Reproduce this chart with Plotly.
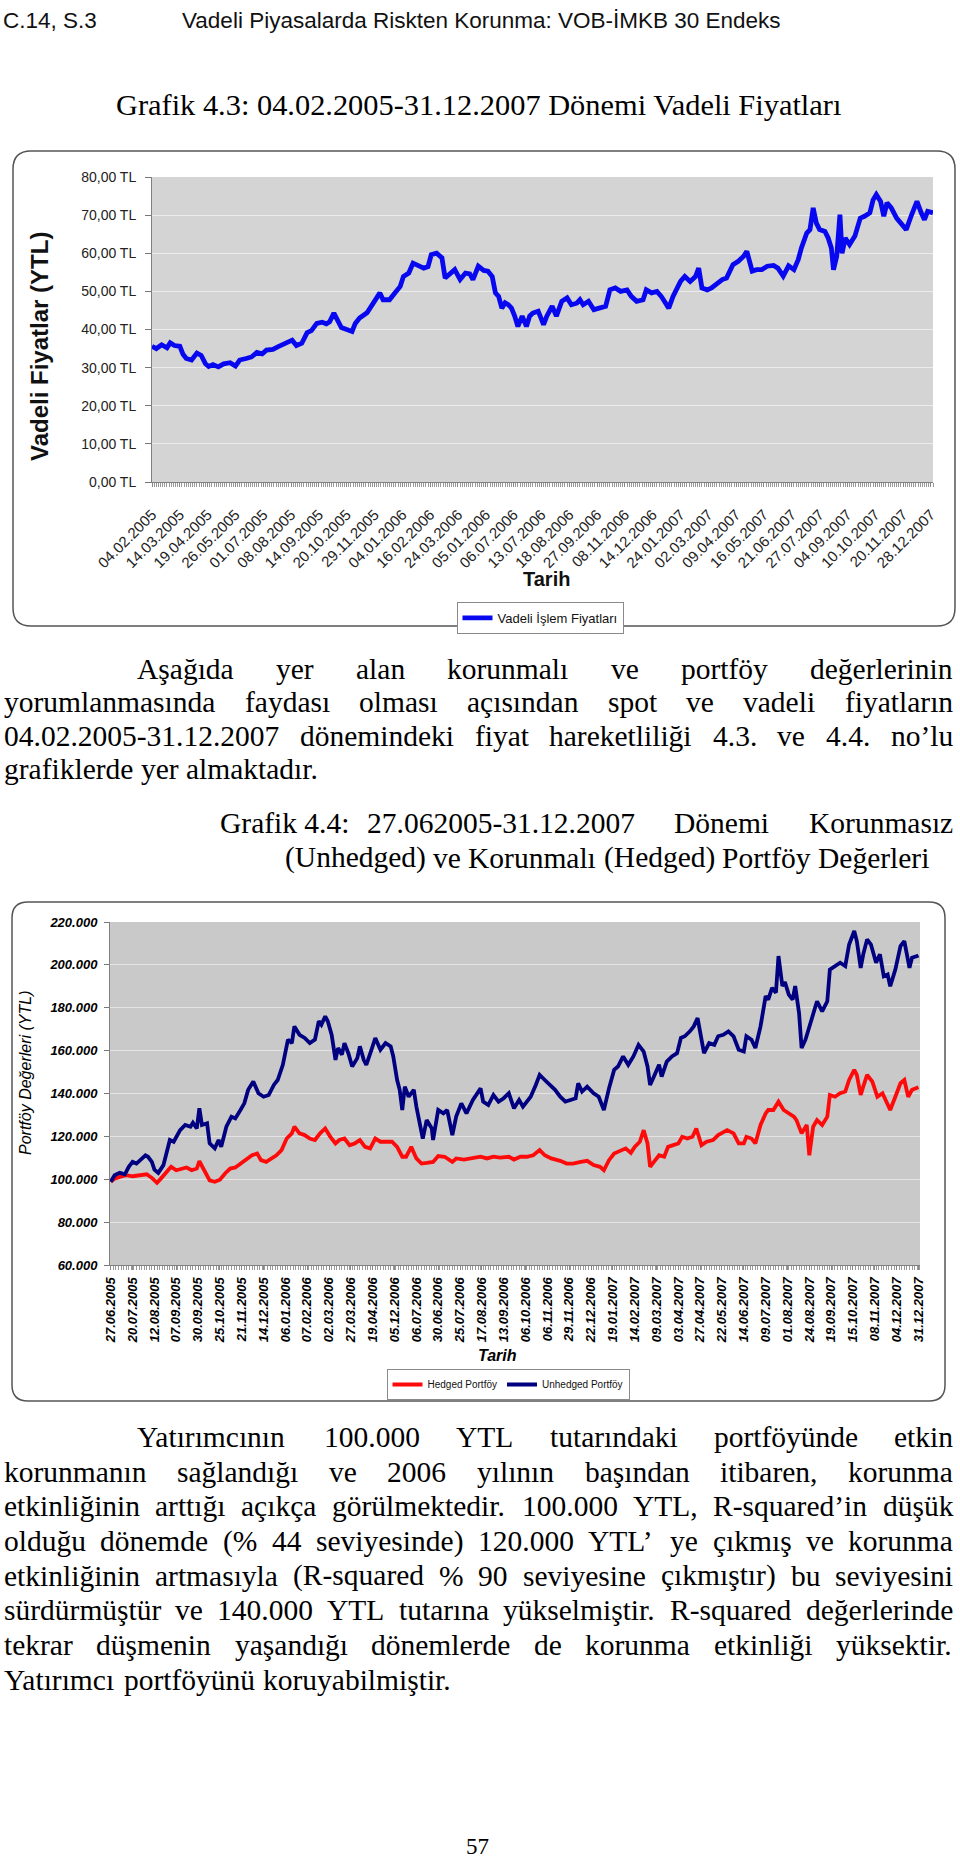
import plotly.graph_objects as go

W, H = 960, 1864

# ------------------------------------------------------------------ data
# Grafik 4.3 : vadeli fiyatlar (trading-day index, TL)
vadeli_gun = [0, 4, 9, 14, 17, 21, 26, 29, 32, 37, 42, 46, 50, 53, 57, 62, 67, 73, 78, 82,
              88, 93, 98, 103, 107, 113, 118, 123, 127, 131, 135, 140, 145, 149, 154, 159, 163, 166, 170, 173,
              177, 182, 187, 190, 194, 201, 205, 210, 213, 216, 222, 227, 232, 235, 240, 244, 249, 254, 258, 261,
              266, 271, 274, 279, 283, 288, 293, 297, 300, 305,
              310, 314, 318, 321, 324, 327, 330, 333, 336, 339, 342, 346, 350, 353, 356, 361, 366, 369, 374, 378,
              383, 388, 392, 397, 400, 403, 408, 413, 419, 424, 428, 433, 438, 444, 448, 453, 459, 462, 467, 472,
              476, 483, 487, 494, 498, 503, 508, 511, 514, 519, 523, 528, 533, 537, 543, 548, 553, 556, 561, 565,
              570, 575, 581, 585, 590, 595, 600, 604, 607, 612, 615, 618, 621, 624, 629, 632, 635, 637, 640, 643,
              645, 648, 652, 657, 662, 666, 671, 674, 677, 681, 684, 687, 691, 696, 701, 705, 710, 715, 719, 722,
              725, 730]
vadeli_fiyat = [35.6, 35.0, 36.0, 35.2, 36.5, 35.8, 35.6, 33.5, 32.4, 32.0, 33.8, 33.2, 31.0, 30.3, 30.8, 30.2, 31.0, 31.3, 30.4, 32.0,
                32.4, 32.8, 34.0, 33.6, 34.6, 34.8, 35.5, 36.2, 36.6, 37.2, 35.8, 36.4, 39.2, 39.7, 41.6, 41.9, 41.5, 42.0, 44.3, 42.6,
                40.5, 40.0, 39.5, 41.6, 43.0, 44.4, 46.0, 48.2, 49.6, 47.8, 47.8, 49.6, 51.3, 53.9, 54.8, 57.4, 56.6, 56.1, 56.5, 59.6,
                60.0, 58.8, 53.5, 54.8, 55.7, 53.1, 54.8, 54.6, 53.1, 56.6,
                55.5, 55.3, 53.9, 49.6, 48.7, 45.6, 47.0, 46.5, 45.6, 43.5, 40.8, 43.5, 40.8, 43.5, 44.3, 44.8, 41.3, 43.5, 46.1, 43.5,
                47.4, 48.3, 46.5, 46.9, 47.8, 46.5, 47.4, 45.2, 45.6, 46.1, 50.4, 50.9, 50.0, 50.4, 48.7, 47.4, 47.8, 50.4, 49.6, 50.0,
                48.7, 45.6, 48.7, 52.6, 53.9, 52.6, 53.9, 56.1, 50.9, 50.4, 50.9, 52.2, 53.1, 53.5, 57.0, 57.9, 59.2, 60.5, 55.3, 55.7,
                55.7, 56.6, 56.8, 56.1, 54.0, 56.7, 55.7, 58.3, 61.4, 65.3, 66.2, 71.9, 67.9, 66.2, 65.7, 64.0, 61.4, 55.7, 59.2, 70.1,
                60.0, 64.0, 62.3, 64.5, 69.2, 69.7, 70.6, 74.0, 75.4, 73.6, 69.7, 73.2, 71.9, 69.2, 67.5, 66.2, 70.1, 73.6, 70.6, 68.8,
                71.0, 70.6]
grafik43_etiket = ["04.02.2005", "14.03.2005", "19.04.2005", "26.05.2005", "01.07.2005", "08.08.2005",
                   "14.09.2005", "20.10.2005", "29.11.2005", "04.01.2006", "16.02.2006", "24.03.2006",
                   "05.01.2006", "06.07.2006", "13.07.2006", "18.08.2006", "27.09.2006", "08.11.2006",
                   "14.12.2006", "24.01.2007", "02.03.2007", "09.04.2007", "16.05.2007", "21.06.2007",
                   "27.07.2007", "04.09.2007", "10.10.2007", "20.11.2007", "28.12.2007"]
grafik43_adim = 26

# Grafik 4.4 : portfoy degerleri (trading-day index, thousand YTL)
unhedged_gun = [0, 3, 7, 11, 14, 17, 20, 23, 27, 29, 32, 34, 37, 41, 43, 46, 49, 51, 54, 58,
                62, 64, 67, 69, 71, 75, 77, 81, 84, 86, 90, 94, 97, 101, 104, 107, 111, 115, 119, 123,
                127, 130, 134, 138, 141, 143, 147, 151, 155, 159, 162, 164, 167, 169, 172, 175, 177, 180, 182, 185,
                188, 192, 194, 197, 199, 203, 206, 210, 214, 218, 220, 223, 225, 227, 229, 232, 236, 238, 241, 243,
                246, 250, 251, 255, 259, 262, 266, 269, 273, 277, 282, 288,
                290, 294, 298, 302, 306, 310, 314, 318, 321, 327, 331, 334, 338, 342, 346, 350, 354, 358, 362, 364,
                367, 371, 376, 380, 384, 388, 392, 395, 399, 403, 407, 411, 415, 418, 420, 423, 427, 429, 433, 437,
                441, 444, 447, 451, 454, 457, 459, 462, 466, 470, 473, 477, 481, 485, 489, 493, 495, 499, 502, 506,
                510, 512, 515, 518, 520, 523, 525, 528, 531, 533, 536, 538, 541, 544, 547, 550, 554, 558, 560, 564,
                568, 572, 575, 579, 581, 584, 586, 589, 592, 596, 599, 602, 605, 607, 611, 615, 618, 622, 624, 628,
                629]
unhedged_bin = [98.8, 101.9, 103.0, 102.3, 105.8, 108.1, 107.3, 109.2, 111.2, 110.5, 108.1, 104.5, 103.0, 106.6, 111.2, 118.3, 117.5, 119.8, 122.9, 125.3,
                124.5, 126.4, 123.7, 133.1, 125.3, 126.1, 116.7, 114.4, 118.3, 115.1, 124.5, 129.2, 128.4, 132.3, 135.4, 141.7, 145.6, 140.1, 138.5, 139.3,
                144.0, 146.3, 153.4, 165.1, 163.5, 171.3, 167.4, 165.9, 163.5, 165.1, 173.7, 172.1, 176.0, 173.7, 167.4, 155.7, 161.2, 158.1, 163.5, 158.8,
                152.6, 156.5, 162.0, 155.7, 153.4, 160.4, 165.9, 160.4, 163.5, 162.0, 157.3, 146.3, 141.7, 132.3, 143.2, 138.5, 141.7, 133.9, 124.5, 119.0,
                127.6, 123.7, 118.3, 132.3, 130.7, 132.3, 120.6, 129.2, 135.4, 130.7, 137.0, 142.4,
                136.2, 134.6, 139.3, 136.2, 137.8, 140.1, 133.1, 137.0, 133.9, 138.5, 144.0, 148.7, 146.3, 144.0, 141.7, 138.5, 136.2, 137.0, 137.8, 144.8,
                140.9, 143.2, 140.1, 138.5, 132.3, 142.4, 151.0, 152.6, 157.3, 153.4, 157.3, 162.7, 159.6, 152.6, 144.0, 147.9, 153.4, 147.9, 154.9, 157.3,
                158.8, 165.9, 166.7, 169.0, 171.3, 175.2, 168.2, 158.8, 163.5, 162.7, 166.7, 167.4, 169.0, 166.7, 160.4, 159.6, 166.7, 165.1, 161.2, 171.3,
                185.4, 183.8, 189.3, 187.0, 204.1, 190.1, 192.0, 186.1, 183.8, 190.1, 177.6, 161.2, 165.1, 171.3, 176.0, 183.0, 178.3, 183.0, 197.8, 199.4,
                201.0, 199.4, 209.5, 215.8, 211.1, 198.6, 204.9, 211.9, 209.5, 201.0, 204.9, 194.7, 195.5, 190.0, 197.8, 208.8, 211.1, 198.6, 203.3, 204.1,
                204.4]
hedged_gun = [0, 3, 7, 12, 17, 23, 28, 32, 36, 39, 43, 47, 51, 55, 59, 63, 67, 69, 73, 77,
              81, 85, 89, 93, 97, 101, 106, 110, 114, 117, 121, 125, 129, 133, 137, 141, 143, 147, 151, 155,
              159, 163, 167, 171, 175, 178, 182, 186, 190, 194, 198, 202, 206, 210, 215, 219, 223, 227, 230, 234,
              238, 242, 246, 251, 255, 260, 266, 269, 275, 280, 288,
              293, 298, 303, 310, 314, 319, 324, 329, 334, 338, 343, 350, 355, 360, 366, 371, 376, 381, 384, 388,
              392, 397, 401, 405, 408, 412, 415, 418, 420, 423, 427, 431, 434, 438, 442, 445, 449, 453, 456, 460,
              464, 469, 473, 480, 485, 489, 493, 495, 499, 502, 506, 510, 512, 516, 520, 524, 528, 532, 534, 538,
              542, 544, 547, 550, 554, 558, 560, 564, 568, 572, 575, 579, 581, 584, 586, 589, 593, 597, 601, 605,
              607, 611, 615, 618, 621, 624, 628, 629]
hedged_bin = [98.8, 100.3, 101.1, 101.9, 101.4, 101.9, 102.3, 100.6, 98.3, 100.3, 103.4, 105.8, 104.2, 105.0, 105.5, 104.2, 105.0, 108.4, 104.2, 99.5,
              98.8, 99.8, 102.7, 105.0, 105.5, 107.3, 109.7, 111.2, 112.0, 108.9, 108.1, 109.7, 111.2, 113.6, 119.0, 121.4, 124.5, 121.4, 120.6, 119.0,
              118.3, 121.4, 123.7, 119.8, 116.7, 118.3, 119.0, 115.9, 116.7, 118.3, 115.1, 114.4, 119.0, 117.5, 117.5, 117.5, 115.1, 110.5, 110.5, 115.1,
              109.7, 107.3, 107.6, 108.1, 110.8, 110.5, 108.1, 109.7, 109.2, 109.7, 110.5,
              109.7, 110.5, 110.1, 110.5, 109.2, 110.5, 110.5, 111.2, 113.6, 111.2, 109.7, 108.6, 107.3, 107.3, 108.1, 108.6, 106.6, 105.8, 104.2, 108.9,
              112.0, 113.3, 114.4, 112.3, 115.1, 117.5, 122.9, 116.7, 105.8, 108.1, 111.2, 110.5, 115.1, 115.9, 116.7, 119.8, 119.0, 119.8, 123.7, 115.9,
              117.5, 118.3, 120.6, 122.9, 121.4, 116.7, 116.7, 119.8, 119.0, 116.7, 125.3, 130.7, 132.3, 132.3, 136.2, 132.3, 130.7, 129.2, 127.6, 121.4,
              125.3, 111.2, 124.5, 127.6, 125.3, 129.2, 139.3, 138.5, 140.1, 140.9, 146.3, 151.0, 148.7, 139.3, 143.2, 148.7, 145.6, 138.5, 140.1, 135.4,
              132.3, 138.5, 144.8, 146.3, 138.5, 141.7, 142.4, 142.9]
grafik44_etiket = ["27.06.2005", "20.07.2005", "12.08.2005", "07.09.2005", "30.09.2005", "25.10.2005",
                   "21.11.2005", "14.12.2005", "06.01.2006", "07.02.2006", "02.03.2006", "27.03.2006",
                   "19.04.2006", "05.12.2006", "06.07.2006", "30.06.2006", "25.07.2006", "17.08.2006",
                   "13.09.2006", "06.10.2006", "06.11.2006", "29.11.2006", "22.12.2006", "19.01.2007",
                   "14.02.2007", "09.03.2007", "03.04.2007", "27.04.2007", "22.05.2007", "14.06.2007",
                   "09.07.2007", "01.08.2007", "24.08.2007", "19.09.2007", "15.10.2007", "08.11.2007",
                   "04.12.2007", "31.12.2007"]
grafik44_adim = 17

# page text
baslik_ust = ["C.14, S.3", "Vadeli Piyasalarda Riskten Korunma: VOB-İMKB 30 Endeks"]
grafik43_baslik = "Grafik 4.3: 04.02.2005-31.12.2007 Dönemi Vadeli Fiyatları"
paragraf1 = ["Aşağıda yer alan korunmalı ve portföy değerlerinin",
             "yorumlanmasında faydası olması açısından spot ve vadeli fiyatların",
             "04.02.2005-31.12.2007 dönemindeki fiyat hareketliliği 4.3. ve 4.4. no’lu",
             "grafiklerde yer almaktadır."]
grafik44_baslik = ["Grafik 4.4:", "27.062005-31.12.2007 Dönemi Korunmasız",
                   "(Unhedged) ve Korunmalı (Hedged) Portföy Değerleri"]
paragraf2 = ["Yatırımcının 100.000 YTL tutarındaki portföyünde etkin",
             "korunmanın sağlandığı ve 2006 yılının başından itibaren, korunma",
             "etkinliğinin arttığı açıkça görülmektedir. 100.000 YTL, R-squared’in düşük",
             "olduğu dönemde (% 44 seviyesinde) 120.000 YTL’ ye çıkmış ve korunma",
             "etkinliğinin artmasıyla (R-squared % 90 seviyesine çıkmıştır) bu seviyesini",
             "sürdürmüştür ve 140.000 YTL tutarına yükselmiştir. R-squared değerlerinde",
             "tekrar düşmenin yaşandığı dönemlerde de korunma etkinliği yüksektir.",
             "Yatırımcı portföyünü koruyabilmiştir."]
sayfa_no = "57"

# ------------------------------------------------------------------ helpers
SANS = "Liberation Sans, Arial, sans-serif"
SERIF = "Liberation Serif, Times New Roman, serif"


def px(x):
    return x / W


def py(y):
    return 1 - y / H


TIMES = {' ': 250, '%': 833, '(': 333, ')': 333, ',': 250, '-': 333, '.': 250, ':': 278, '’': 333,
         'A': 722, 'B': 667, 'C': 667, 'D': 722, 'E': 611, 'F': 556, 'G': 722, 'H': 722, 'I': 333,
         'J': 389, 'K': 722, 'L': 611, 'M': 889, 'N': 722, 'O': 722, 'P': 556, 'Q': 722, 'R': 667,
         'S': 556, 'T': 611, 'U': 722, 'V': 722, 'W': 944, 'X': 722, 'Y': 722, 'Z': 611,
         'a': 444, 'b': 500, 'c': 444, 'd': 500, 'e': 444, 'f': 333, 'g': 500, 'h': 500, 'i': 278,
         'j': 278, 'k': 500, 'l': 278, 'm': 778, 'n': 500, 'o': 500, 'p': 500, 'q': 500, 'r': 333,
         's': 389, 't': 278, 'u': 500, 'v': 500, 'w': 722, 'x': 500, 'y': 500, 'z': 444,
         'ş': 389, 'ğ': 500, 'ı': 278, 'ç': 444, 'ö': 500, 'ü': 500, 'İ': 333, 'Ş': 556, 'Ğ': 722,
         'Ç': 667, 'Ö': 722, 'Ü': 722}


def tw(s, f):
    return sum(TIMES.get(c, 500) for c in s) * f / 1000.0


annotations = []


def text(t, x, base, f, family=SERIF, anchor="left", color="black", **fk):
    annotations.append(dict(text=t, x=px(x), y=py(base - 0.34 * f), xref="paper", yref="paper",
                            xanchor=anchor, yanchor="middle", showarrow=False,
                            font=dict(family=family, size=f, color=color, **fk)))


def line(words, left, right, base, f, justify=True):
    ws = [tw(w, f) for w in words]
    if justify and len(words) > 1:
        gap = max((right - left - sum(ws)) / (len(words) - 1), 0.18 * f)
    else:
        gap = 0.25 * f
    x = left
    for w, wd in zip(words, ws):
        text(w, x - 1, base, f)
        x += wd + gap


def rounded(x0, y0, x1, y1, r):
    p = [("M", [(x0 + r, y0)]), ("L", [(x1 - r, y0)]), ("Q", [(x1, y0), (x1, y0 + r)]),
         ("L", [(x1, y1 - r)]), ("Q", [(x1, y1), (x1 - r, y1)]), ("L", [(x0 + r, y1)]),
         ("Q", [(x0, y1), (x0, y1 - r)]), ("L", [(x0, y0 + r)]), ("Q", [(x0, y0), (x0 + r, y0)])]
    s = ""
    for cmd, pts in p:
        s += cmd + " " + " ".join("%.5f,%.5f" % (px(a), py(b)) for a, b in pts) + " "
    return s + "Z"


# ------------------------------------------------------------------ figure
fig = go.Figure()

fig.add_trace(go.Scatter(x=vadeli_gun, y=vadeli_fiyat, mode="lines", name="Vadeli İşlem Fiyatları",
                         line=dict(color="#0808f0", width=4.8), xaxis="x", yaxis="y", legend="legend"))
fig.add_trace(go.Scatter(x=hedged_gun, y=[v * 1000 for v in hedged_bin], mode="lines", name="Hedged Portföy",
                         line=dict(color="#ff0a0a", width=3.8), xaxis="x2", yaxis="y2", legend="legend2"))
fig.add_trace(go.Scatter(x=unhedged_gun, y=[v * 1000 for v in unhedged_bin], mode="lines", name="Unhedged Portföy",
                         line=dict(color="#000080", width=3.8), xaxis="x2", yaxis="y2", legend="legend2"))

tv1 = [i * grafik43_adim for i in range(len(grafik43_etiket))]
tv2 = [i * grafik44_adim for i in range(len(grafik44_etiket))]

# chart 1 plot area: x 152-933, y 177-482 ; chart 2: x 110-920, y 922-1265
fig.update_layout(
    width=W, height=H, margin=dict(l=0, r=0, t=0, b=0),
    paper_bgcolor="white", plot_bgcolor="rgba(0,0,0,0)",
    separators=",.", showlegend=True, hovermode=False,
    font=dict(family=SANS, color="#222"),
    xaxis=dict(domain=[px(152), px(933)], anchor="y", range=[0, 730],
               tickmode="array", tickvals=tv1, ticktext=grafik43_etiket, tickangle=-45,
               tickfont=dict(family=SANS, size=15, color="#222"),
               ticks="outside", ticklen=4, tickcolor="#888", ticklabelstandoff=13,
               minor=dict(tickmode="linear", tick0=0, dtick=2, ticks="outside", ticklen=4, tickcolor="#999"),
               showline=True, linecolor="#808080", linewidth=1, showgrid=False, zeroline=False,
               automargin=False, fixedrange=True),
    yaxis=dict(domain=[py(482), py(177)], anchor="x", range=[0, 80], tickmode="linear", tick0=0, dtick=10,
               tickformat=".2f", ticksuffix=" TL", tickfont=dict(family=SANS, size=14, color="#222"),
               ticks="outside", ticklen=6, tickcolor="#777", ticklabelstandoff=6,
               showgrid=True, gridcolor="#ececec", gridwidth=1,
               showline=True, linecolor="#808080", linewidth=1, zeroline=False,
               automargin=False, fixedrange=True),
    xaxis2=dict(domain=[px(110), px(920)], anchor="y2", range=[-0.6, 630.2],
                tickmode="array", tickvals=tv2, ticktext=grafik44_etiket, tickangle=-90,
                tickfont=dict(family=SANS, size=13, color="black", weight="bold", style="italic"),
                ticks="outside", ticklen=4, tickcolor="#888", ticklabelstandoff=2,
                minor=dict(tickmode="linear", tick0=0, dtick=2, ticks="outside", ticklen=4, tickcolor="#999"),
                showline=True, linecolor="#808080", linewidth=1, showgrid=False, zeroline=False,
                automargin=False, fixedrange=True),
    yaxis2=dict(domain=[py(1265), py(922)], anchor="x2", range=[60000, 220000], tickmode="linear",
                tick0=60000, dtick=20000, tickformat=",d",
                tickfont=dict(family=SANS, size=13, color="black", weight="bold", style="italic"),
                ticks="outside", ticklen=5, tickcolor="#777", ticklabelstandoff=4,
                showgrid=True, gridcolor="#e4e4e4", gridwidth=1,
                showline=True, linecolor="#808080", linewidth=1, zeroline=False,
                automargin=False, fixedrange=True),
    legend=dict(x=px(540), y=py(602), xanchor="center", yanchor="top", orientation="h",
                bgcolor="white", bordercolor="#8a8a8a", borderwidth=1,
                font=dict(family=SANS, size=13, color="#111"), itemwidth=30, tracegroupgap=0),
    legend2=dict(x=px(508), y=py(1369), xanchor="center", yanchor="top", orientation="h",
                 bgcolor="white", bordercolor="#8a8a8a", borderwidth=1,
                 font=dict(family=SANS, size=10, color="#111"), itemwidth=30, tracegroupgap=0),
)

shapes = [
    dict(type="rect", xref="x domain", yref="y domain", x0=0, x1=1, y0=0, y1=1,
         fillcolor="#d4d4d4", line=dict(width=0), layer="below"),
    dict(type="rect", xref="x2 domain", yref="y2 domain", x0=0, x1=1, y0=0, y1=1,
         fillcolor="#c9c9c9", line=dict(width=0), layer="below"),
    dict(type="path", xref="paper", yref="paper", path=rounded(13, 151, 955, 626, 18),
         line=dict(color="#555", width=1.5), fillcolor="rgba(0,0,0,0)", layer="below"),
    dict(type="path", xref="paper", yref="paper", path=rounded(12, 902, 945, 1401, 16),
         line=dict(color="#555", width=1.5), fillcolor="rgba(0,0,0,0)", layer="below"),
]
fig.update_layout(shapes=shapes)

# ------------------------------------------------------------------ text
text(baslik_ust[0], 1, 28, 22.5, family=SANS, color="#111")
text(baslik_ust[1], 180, 28, 22.5, family=SANS, color="#111")
text(grafik43_baslik, 114, 115, 30.4)

# chart 1 titles
annotations.append(dict(text="Vadeli Fiyatlar (YTL)", x=px(40), y=py(347), xref="paper", yref="paper",
                        textangle=-90, showarrow=False, xanchor="center", yanchor="middle",
                        font=dict(family=SANS, size=24, color="#111", weight="bold")))
annotations.append(dict(text="Tarih", x=px(546), y=py(579), xref="paper", yref="paper", showarrow=False,
                        xanchor="center", yanchor="middle",
                        font=dict(family=SANS, size=20, color="#111", weight="bold")))

# paragraph 1
L, R = 3, 952
P1 = [679, 712.5, 746, 779.5]
for i, ln in enumerate(paragraf1):
    left = 136 if i == 0 else L
    line(ln.split(" "), left, R, P1[i], 29.5, justify=(i < len(paragraf1) - 1))

# Grafik 4.4 heading
text(grafik44_baslik[0], 218, 833, 29.5)
line(grafik44_baslik[1].split(" "), 366, R, 833, 29.5)
line(grafik44_baslik[2].split(" "), 284, R, 868, 29.5, justify=False)

# chart 2 titles
annotations.append(dict(text="Portföy Değerleri (YTL)", x=px(25), y=py(1073), xref="paper", yref="paper",
                        textangle=-90, showarrow=False, xanchor="center", yanchor="middle",
                        font=dict(family=SANS, size=16, color="black", style="italic")))
annotations.append(dict(text="Tarih", x=px(497), y=py(1355), xref="paper", yref="paper", showarrow=False,
                        xanchor="center", yanchor="middle",
                        font=dict(family=SANS, size=16, color="black", weight="bold", style="italic")))

# paragraph 2
P2 = [1447 + 34.7 * i for i in range(len(paragraf2))]
for i, ln in enumerate(paragraf2):
    left = 136 if i == 0 else L
    line(ln.split(" "), left, R, P2[i], 29.5, justify=(i < len(paragraf2) - 1))

text(sayfa_no, 477, 1854, 23, anchor="center")

fig.update_layout(annotations=annotations)
fig.write_html("out.html", config={"displayModeBar": False},
               post_script="document.body.style.margin='0';document.body.style.overflow='hidden';")
